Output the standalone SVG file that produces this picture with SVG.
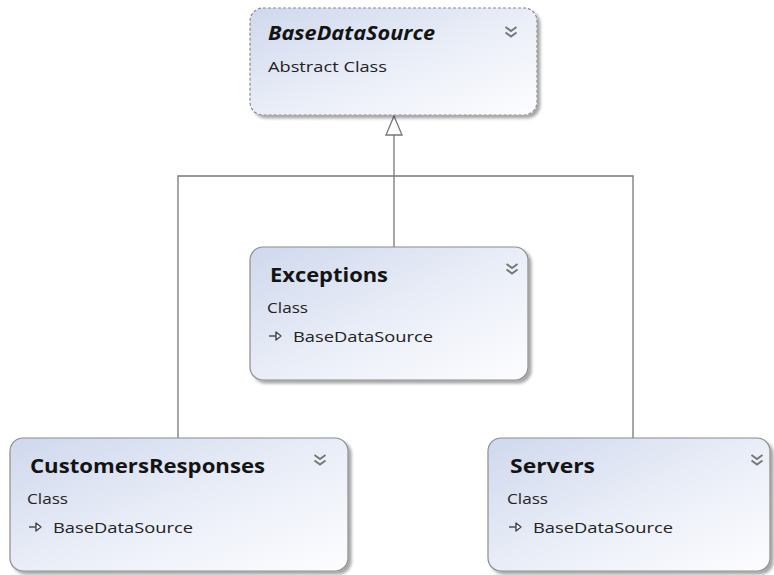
<svg xmlns="http://www.w3.org/2000/svg" width="774" height="575" viewBox="0 0 774 575">
<style>
.box{fill:url(#g);stroke:#8c8c8c;stroke-width:1.2;filter:url(#sh)}
.dash{stroke-dasharray:3 2}
.title{font-family:"Open Sans","Noto Sans",sans-serif;font-weight:bold;font-size:19px;fill:#141414}
.sub{font-family:"Open Sans","Noto Sans",sans-serif;font-size:14px;fill:#222}
.chev{fill:none;stroke:#777;stroke-width:2}
.conn{fill:none;stroke:#777;stroke-width:1.3}
.icon{fill:none;stroke:#444;stroke-width:1.4}
</style>
<defs>
<linearGradient id="g" x1="0" y1="0" x2="1" y2="1">
<stop offset="0" stop-color="#cfd8ed"/>
<stop offset="0.55" stop-color="#ebeff8"/>
<stop offset="1" stop-color="#fdfdff"/>
</linearGradient>
<filter id="sh" x="-5%" y="-5%" width="115%" height="120%">
<feDropShadow dx="3" dy="3" stdDeviation="1.5" flood-color="#000" flood-opacity="0.35"/>
</filter>
<g id="chevron"><path class="chev" d="M-5.5,-6 L0,-2 L5.5,-6 M-5.5,-0.5 L0,3.5 L5.5,-0.5"/></g>
<g id="arr"><path class="icon" d="M0,0 H7"/><path d="M7,-4 L12,0 L7,4 Z" fill="#fff" stroke="#444" stroke-width="1.4" stroke-linejoin="round"/></g>
</defs>
<rect width="774" height="575" fill="#fff"/>
<g id="connectors">
<path class="conn" d="M394,247 V135"/>
<path class="conn" d="M178,438 V176 H633 V438"/>
<path d="M394,116 L402,135 L386,135 Z" fill="#fff" stroke="#777" stroke-width="1.3"/>
</g>
<g id="BaseDataSource">
<rect class="box dash" x="250" y="8" width="287" height="107" rx="13"/>
<text class="title" x="268" y="40" font-style="italic" textLength="167" lengthAdjust="spacingAndGlyphs">BaseDataSource</text>
<text class="sub" x="268" y="72" textLength="119" lengthAdjust="spacingAndGlyphs">Abstract Class</text>
<use href="#chevron" x="511" y="33"/>
</g>
<g id="Exceptions">
<rect class="box" x="250" y="247" width="278" height="133" rx="13"/>
<text class="title" x="270" y="282" textLength="118" lengthAdjust="spacingAndGlyphs">Exceptions</text>
<text class="sub" x="267" y="313" textLength="41" lengthAdjust="spacingAndGlyphs">Class</text>
<use href="#arr" x="269" y="336"/>
<text class="sub" x="293" y="342" textLength="140" lengthAdjust="spacingAndGlyphs">BaseDataSource</text>
<use href="#chevron" x="512" y="270"/>
</g>
<g id="CustomersResponses">
<rect class="box" x="10" y="438" width="338" height="133" rx="13"/>
<text class="title" x="30" y="473" textLength="235" lengthAdjust="spacingAndGlyphs">CustomersResponses</text>
<text class="sub" x="27" y="504" textLength="41" lengthAdjust="spacingAndGlyphs">Class</text>
<use href="#arr" x="29" y="527"/>
<text class="sub" x="53" y="533" textLength="140" lengthAdjust="spacingAndGlyphs">BaseDataSource</text>
<use href="#chevron" x="320" y="461"/>
</g>
<g id="Servers">
<rect class="box" x="488" y="438" width="282" height="133" rx="13"/>
<text class="title" x="510" y="473" textLength="85" lengthAdjust="spacingAndGlyphs">Servers</text>
<text class="sub" x="507" y="504" textLength="41" lengthAdjust="spacingAndGlyphs">Class</text>
<use href="#arr" x="509" y="527"/>
<text class="sub" x="533" y="533" textLength="140" lengthAdjust="spacingAndGlyphs">BaseDataSource</text>
<use href="#chevron" x="757" y="461"/>
</g>
</svg>
